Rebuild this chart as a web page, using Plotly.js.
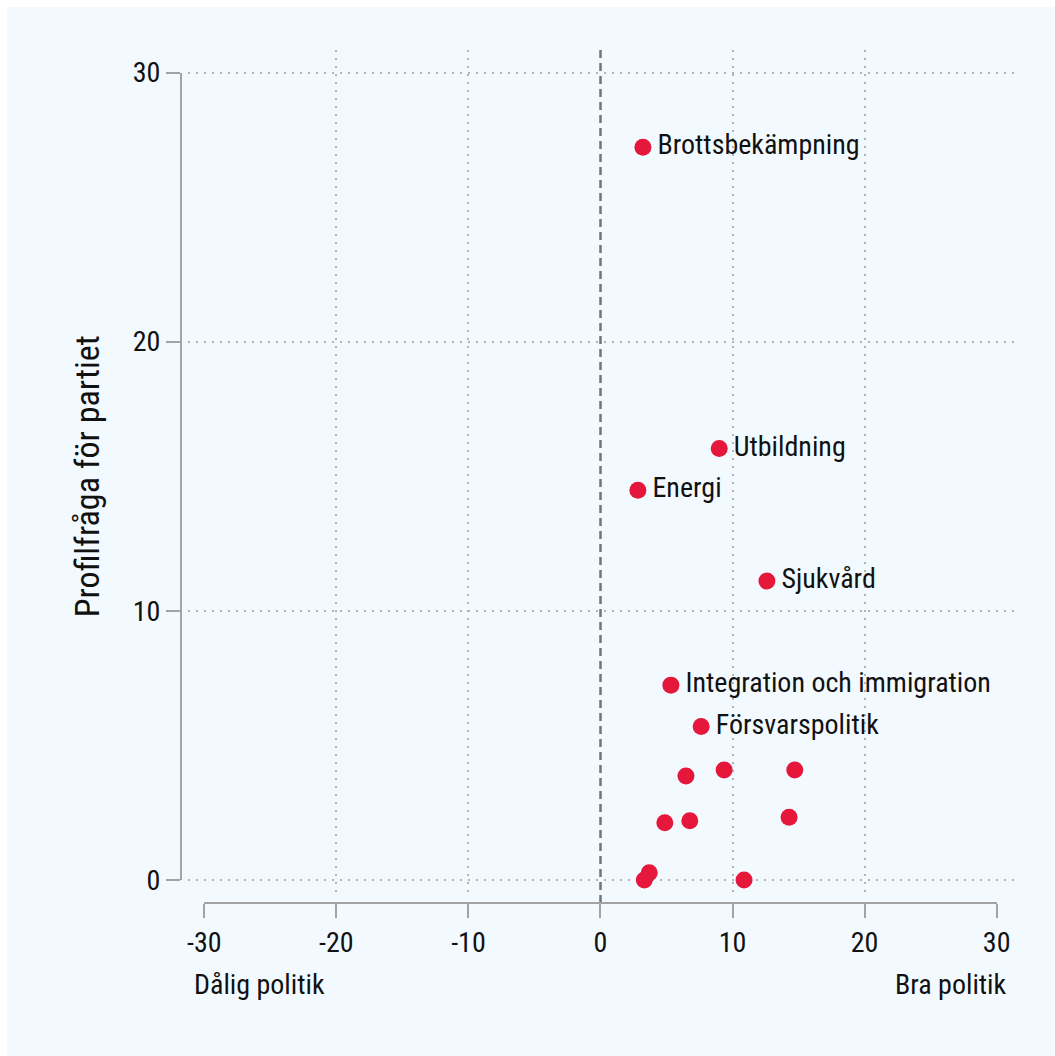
<!DOCTYPE html>
<html>
<head>
<meta charset="utf-8">
<script src="https://cdn.plot.ly/plotly-3.0.1.min.js"></script>
<style>
  html, body { margin: 0; padding: 0; background: #ffffff; }
  #chart { position: absolute; left: 7px; top: 7px; width: 1048px; height: 1049px; }
</style>
</head>
<body>
<div id="chart"></div>
<script>
// ---- data ----
const labels = ['Brottsbekämpning', 'Utbildning', 'Energi', 'Sjukvård',
  'Integration och immigration', 'Försvarspolitik',
  '', '', '', '', '', '', '', '', ''];
const goodPolicy = [3.21, 8.99, 2.83, 12.6, 5.33, 7.62, 6.47, 9.36, 14.71, 4.87, 6.76, 14.28, 3.69, 3.32, 10.87];
const profileIssue = [27.22, 16.03, 14.48, 11.11, 7.24, 5.70, 3.86, 4.09, 4.09, 2.13, 2.20, 2.33, 0.27, 0.0, 0.0];
const xTicks = [-30, -20, -10, 0, 10, 20, 30];
const yTicks = [0, 10, 20, 30];
const xGrid = [-20, -10, 10, 20];
const xTitleLeft = 'Dålig politik';
const xTitleRight = 'Bra politik';
const yTitle = 'Profilfråga för partiet';

// ---- layout geometry ----
const FONT = '"Liberation Sans Narrow", "Arial Narrow", "Roboto Condensed", sans-serif';
const BG = '#f3faff';
const AXC = '#a3a3a3';
const GRIDC = '#b3b3b3';
const TXT = '#111111';

const x2dom = [0.02777, 0.97223], y2dom = [0.02696, 0.97362];
const xdom = [0.00834, 1], ydom = [0.01172, 1];
const xMin = -30, xMax = 30, yMin = 0, yMax = 30;
const xs = (xMax - xMin) / (x2dom[1] - x2dom[0]);
const ys = (yMax - yMin) / (y2dom[1] - y2dom[0]);
const xRange = [xMin - (x2dom[0] - xdom[0]) * xs, xMax + (xdom[1] - x2dom[1]) * xs];
const yRange = [yMin - (y2dom[0] - ydom[0]) * ys, yMax + (ydom[1] - y2dom[1]) * ys];

const data = [
  {
    type: 'scatter', mode: 'markers+text',
    x: goodPolicy, y: profileIssue,
    text: labels.map(s => s ? '\u200A' + s : s),
    textposition: 'middle right',
    textfont: { family: FONT, size: 28, color: TXT },
    marker: { color: '#e5183c', size: 17, line: { width: 0 } },
    cliponaxis: false, hoverinfo: 'skip', showlegend: false,
    xaxis: 'x', yaxis: 'y'
  },
  {
    type: 'scatter', mode: 'markers', x: [null], y: [null],
    xaxis: 'x2', yaxis: 'y2', hoverinfo: 'skip', showlegend: false
  }
];

const layout = {
  width: 1048, height: 1049,
  margin: { l: 174, r: 35, t: 43, b: 153 },
  paper_bgcolor: BG, plot_bgcolor: 'rgba(0,0,0,0)',
  font: { family: FONT, size: 29, color: TXT },
  showlegend: false,
  xaxis: {
    domain: xdom, range: xRange, anchor: 'y',
    tickvals: xGrid, showticklabels: false, ticks: '',
    showgrid: true, gridcolor: GRIDC, gridwidth: 2, griddash: '2px,6px',
    zeroline: false, showline: false
  },
  yaxis: {
    domain: ydom, range: yRange, anchor: 'x',
    tickvals: yTicks, showticklabels: false, ticks: '',
    showgrid: true, gridcolor: GRIDC, gridwidth: 2, griddash: '2px,6px',
    zeroline: false, showline: false
  },
  xaxis2: {
    domain: x2dom, range: [xMin, xMax], anchor: 'free', position: 0,
    tickvals: xTicks, ticktext: xTicks.map(String),
    ticks: 'outside', ticklen: 14, tickwidth: 2, tickcolor: AXC,
    showline: true, linecolor: AXC, linewidth: 2,
    showgrid: false, zeroline: false,
    tickfont: { family: FONT, size: 28, color: TXT }
  },
  yaxis2: {
    domain: y2dom, range: [yMin, yMax], anchor: 'free', position: 0,
    tickvals: yTicks, ticktext: yTicks.map(String),
    ticks: 'outside', ticklen: 14, tickwidth: 2, tickcolor: AXC,
    showline: true, linecolor: AXC, linewidth: 2,
    showgrid: false, zeroline: false,
    tickfont: { family: FONT, size: 28, color: TXT }
  },
  shapes: [
    {
      type: 'line', xref: 'x', yref: 'paper', x0: 0, x1: 0, y0: 0, y1: 1,
      line: { color: '#747474', width: 2.5, dash: '8px,5px' }, layer: 'below'
    }
  ],
  annotations: [
    {
      text: xTitleLeft, xref: 'x2', yref: 'paper', x: xMin, y: -0.096,
      xanchor: 'left', yanchor: 'middle', xshift: -12, showarrow: false,
      font: { family: FONT, size: 28, color: TXT }
    },
    {
      text: xTitleRight, xref: 'x2', yref: 'paper', x: xMax, y: -0.096,
      xanchor: 'right', yanchor: 'middle', xshift: 12, showarrow: false,
      font: { family: FONT, size: 28, color: TXT }
    },
    {
      text: yTitle, xref: 'paper', yref: 'y2', x: -0.112, y: (yMin + yMax) / 2,
      xanchor: 'center', yanchor: 'middle', textangle: -90, showarrow: false,
      font: { family: FONT, size: 34, color: TXT }
    }
  ]
};

Plotly.newPlot('chart', data, layout, { staticPlot: true, displayModeBar: false });
</script>
</body>
</html>
